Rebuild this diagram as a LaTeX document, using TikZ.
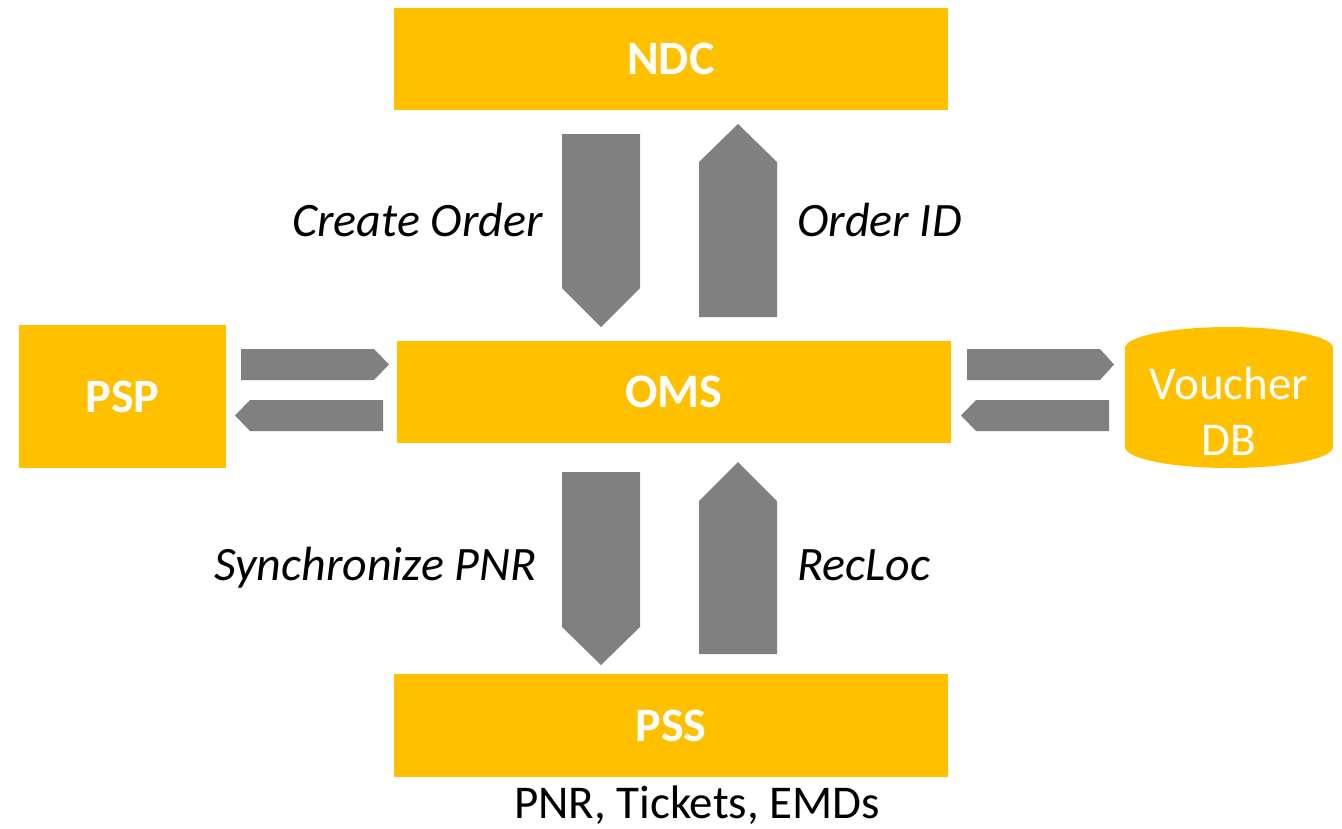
\documentclass[tikz,border=0pt]{standalone}
\usepackage{fontspec}
\setmainfont{Carlito}
\definecolor{boxyellow}{HTML}{FFC000}
\definecolor{arrowgray}{HTML}{808080}
\begin{document}
\begin{tikzpicture}[x=1pt,y=-1pt,
  box/.style={fill=boxyellow,draw=none,text=white,font=\fontsize{48}{57}\selectfont\bfseries,inner sep=0pt},
  blockarrow/.style={fill=arrowgray,draw=none},
  lbl/.style={font=\fontsize{48}{57}\selectfont\itshape,text=black,inner sep=0pt}]
\useasboundingbox (0,0) rectangle (1342,828);
% boxes
\node[box,minimum width=554pt,minimum height=102pt] (ndc) at (671,59) {NDC};
\node[box,minimum width=554pt,minimum height=102pt] (oms) at (674,392) {OMS};
\node[box,minimum width=554pt,minimum height=103pt] (pss) at (671,725.5) {PSS};
\node[box,minimum width=207pt,minimum height=143pt] (psp) at (122.5,396.5) {PSP};
% voucher DB cylinder
\fill[boxyellow] (1125,348) rectangle (1333,447);
\fill[boxyellow] (1229,348) ellipse [x radius=104, y radius=21];
\fill[boxyellow] (1229,447) ellipse [x radius=104, y radius=21];
\node[font=\fontsize{47}{56}\selectfont,text=white,align=center,inner sep=0pt] (vdb) at (1229,411) {Voucher\\DB};
% vertical arrows top
\fill[blockarrow] (562,134) -- (640,134) -- (640,288) -- (601,327) -- (562,288) -- cycle;
\fill[blockarrow] (699,317) -- (699,162) -- (738,124) -- (777,162) -- (777,317) -- cycle;
% vertical arrows bottom
\fill[blockarrow] (562,472) -- (640,472) -- (640,627) -- (601,665) -- (562,627) -- cycle;
\fill[blockarrow] (699,654) -- (699,501) -- (738,462) -- (777,501) -- (777,654) -- cycle;
% horizontal arrows left
\fill[blockarrow] (241,349) -- (374,349) -- (389,364.5) -- (374,380) -- (241,380) -- cycle;
\fill[blockarrow] (383,400) -- (250,400) -- (235,415.5) -- (250,431) -- (383,431) -- cycle;
% horizontal arrows right
\fill[blockarrow] (967,349) -- (1100,349) -- (1114,364.5) -- (1100,380) -- (967,380) -- cycle;
\fill[blockarrow] (1109,400) -- (976,400) -- (961,415.5) -- (976,431) -- (1109,431) -- cycle;
% labels
\node[lbl,anchor=base east] (l1) at (543,236) {Create Order};
\node[lbl,anchor=base west] (l2) at (797,236) {Order ID};
\node[lbl,anchor=base east] (l3) at (537,580) {Synchronize PNR};
\node[lbl,anchor=base west] (l4) at (797,580) {RecLoc};
\node[font=\fontsize{47}{56}\selectfont,inner sep=0pt,anchor=base,text depth=0pt] (l5) at (697,818) {PNR, Tickets, EMDs};
\end{tikzpicture}
\end{document}
